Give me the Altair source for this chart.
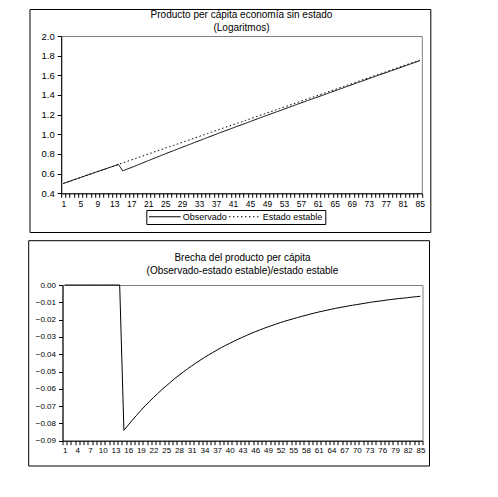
import altair as alt
import pandas as pd

periodos = list(range(1, 86))

estado_estable = [
    0.500, 0.515, 0.530, 0.545, 0.560, 0.575, 0.590, 0.605, 0.620, 0.634,
    0.649, 0.664, 0.679, 0.694, 0.709, 0.724, 0.739, 0.754, 0.769, 0.784,
    0.799, 0.814, 0.829, 0.844, 0.859, 0.874, 0.888, 0.903, 0.918, 0.933,
    0.948, 0.963, 0.978, 0.993, 1.008, 1.023, 1.038, 1.053, 1.068, 1.083,
    1.098, 1.113, 1.127, 1.142, 1.157, 1.172, 1.187, 1.202, 1.217, 1.232,
    1.247, 1.262, 1.277, 1.292, 1.307, 1.322, 1.337, 1.352, 1.367, 1.381,
    1.396, 1.411, 1.426, 1.441, 1.456, 1.471, 1.486, 1.501, 1.516, 1.531,
    1.546, 1.561, 1.576, 1.591, 1.606, 1.621, 1.635, 1.650, 1.665, 1.680,
    1.695, 1.710, 1.725, 1.740, 1.755,
]

observado = [
    0.500, 0.515, 0.530, 0.545, 0.560, 0.575, 0.590, 0.605, 0.620, 0.634,
    0.649, 0.664, 0.679, 0.694, 0.628, 0.645, 0.662, 0.679, 0.696, 0.714,
    0.732, 0.749, 0.766, 0.784, 0.801, 0.818, 0.834, 0.851, 0.868, 0.885,
    0.901, 0.918, 0.934, 0.951, 0.968, 0.984, 1.000, 1.017, 1.033, 1.049,
    1.065, 1.082, 1.097, 1.113, 1.129, 1.145, 1.161, 1.177, 1.193, 1.209,
    1.224, 1.240, 1.256, 1.272, 1.287, 1.303, 1.319, 1.334, 1.350, 1.365,
    1.380, 1.396, 1.411, 1.427, 1.442, 1.458, 1.473, 1.489, 1.504, 1.520,
    1.535, 1.550, 1.566, 1.581, 1.597, 1.612, 1.626, 1.642, 1.657, 1.672,
    1.687, 1.703, 1.718, 1.733, 1.748,
]

brecha = [
    0.0, 0.0, 0.0, 0.0, 0.0, 0.0, 0.0, 0.0, 0.0, 0.0,
    0.0, 0.0, 0.0, 0.0, -0.0840, -0.0810, -0.0781, -0.0753, -0.0725, -0.0699,
    -0.0674, -0.0650, -0.0627, -0.0604, -0.0583, -0.0562, -0.0541, -0.0522, -0.0503, -0.0485,
    -0.0468, -0.0451, -0.0435, -0.0419, -0.0404, -0.0390, -0.0376, -0.0362, -0.0349, -0.0337,
    -0.0325, -0.0313, -0.0302, -0.0291, -0.0280, -0.0270, -0.0261, -0.0251, -0.0242, -0.0234,
    -0.0225, -0.0217, -0.0209, -0.0202, -0.0195, -0.0188, -0.0181, -0.0175, -0.0168, -0.0162,
    -0.0156, -0.0151, -0.0145, -0.0140, -0.0135, -0.0130, -0.0126, -0.0121, -0.0117, -0.0113,
    -0.0109, -0.0105, -0.0101, -0.0097, -0.0094, -0.0091, -0.0087, -0.0084, -0.0081, -0.0078,
    -0.0076, -0.0073, -0.0070, -0.0068, -0.0065,
]

series = ["Observado", "Estado estable"]
y1_ticks = [0.4, 0.6, 0.8, 1.0, 1.2, 1.4, 1.6, 1.8, 2.0]
y2_ticks = [0.0, -0.01, -0.02, -0.03, -0.04, -0.05, -0.06, -0.07, -0.08, -0.09]

FONT = "Liberation Sans"

df1 = pd.DataFrame({
    "t": periodos * 2,
    "valor": observado + estado_estable,
    "serie": [series[0]] * len(periodos) + [series[1]] * len(periodos),
})
df2 = pd.DataFrame({"t": periodos, "brecha": brecha})

frame_data = alt.Data(values=[{"k": 1}])


def x_axis(step, size):
    return alt.Axis(
        title=None,
        labelExpr=f"(datum.value - 1) % {step} == 0 ? datum.label : ''",
        labelOverlap=False,
        labelAngle=0,
        labelFont=FONT,
        labelFontSize=size,
        labelColor="black",
        labelPadding=2,
        tickBand="extent",
        tickSize=4,
        tickColor="black",
        domainColor="black",
        grid=False,
    )


def y_axis(vals, fmt, size):
    return alt.Axis(
        title=None,
        values=vals,
        format=fmt,
        labelFont=FONT,
        labelFontSize=size,
        labelColor="black",
        labelPadding=3,
        tickSize=4,
        tickColor="black",
        domainColor="black",
        grid=False,
    )


W1, H1 = 360.6, 157.3
W2, H2 = 360.0, 155.7

lines1 = alt.Chart(df1).mark_line(strokeWidth=1, color="black").encode(
    x=alt.X("t:O", bandPosition=0.5,
            scale=alt.Scale(type="band", paddingInner=0, paddingOuter=0),
            axis=x_axis(4, 8.5)),
    y=alt.Y("valor:Q", scale=alt.Scale(domain=[0.4, 2.0], nice=False, zero=False),
            axis=y_axis(y1_ticks, ".1f", 9.5)),
    strokeDash=alt.StrokeDash(
        "serie:N",
        scale=alt.Scale(domain=series, range=[[1, 0], [1.5, 2.5]]),
        sort=series,
        legend=alt.Legend(
            title=None, orient="none", legendX=85.3, legendY=174,
            direction="horizontal", strokeColor="black", padding=2,
            symbolType="stroke", symbolSize=1000, symbolStrokeWidth=1,
            symbolStrokeColor="black", labelFont=FONT, labelFontSize=9,
            labelColor="black", labelOffset=1.5, columnPadding=1,
            clipHeight=9,
        ),
    ),
    detail="serie:N",
)

frame1 = alt.Chart(frame_data).mark_rect(filled=False, stroke="black", strokeWidth=1).encode(
    x=alt.value(-31.2), x2=alt.value(369.6), y=alt.value(-26.5), y2=alt.value(196.5)
)

top = alt.layer(frame1, lines1).properties(
    width=W1, height=H1,
    title=alt.TitleParams(
        text=["Producto per cápita economía sin estado", "(Logaritmos)"],
        font=FONT, fontSize=10, fontWeight="normal", color="black",
        lineHeight=13, anchor="middle", offset=-24,
    ),
)

line2 = alt.Chart(df2).mark_line(strokeWidth=1, color="black").encode(
    x=alt.X("t:O", bandPosition=0.5,
            scale=alt.Scale(type="band", paddingInner=0, paddingOuter=0),
            axis=x_axis(3, 8)),
    y=alt.Y("brecha:Q", scale=alt.Scale(domain=[-0.09, 0.0], nice=False, zero=False),
            axis=y_axis(y2_ticks, ".2f", 8)),
)

frame2 = alt.Chart(frame_data).mark_rect(filled=False, stroke="black", strokeWidth=1).encode(
    x=alt.value(-33.8), x2=alt.value(367.0), y=alt.value(-44.3), y2=alt.value(181.0)
)

bottom = alt.layer(frame2, line2).properties(
    width=W2, height=H2,
    title=alt.TitleParams(
        text=["Brecha del producto per cápita", "(Observado-estado estable)/estado estable"],
        font=FONT, fontSize=10, fontWeight="normal", color="black",
        lineHeight=13.7, anchor="middle", offset=-36,
    ),
)

chart = alt.vconcat(top, bottom, spacing=5, center=True).properties(
    padding={"left": 19, "top": 0, "right": 5, "bottom": 5},
    background="white",
).configure_view(stroke="#808080", strokeWidth=1)

chart.save("out.html", embed_options={"renderer": "svg", "actions": False})
